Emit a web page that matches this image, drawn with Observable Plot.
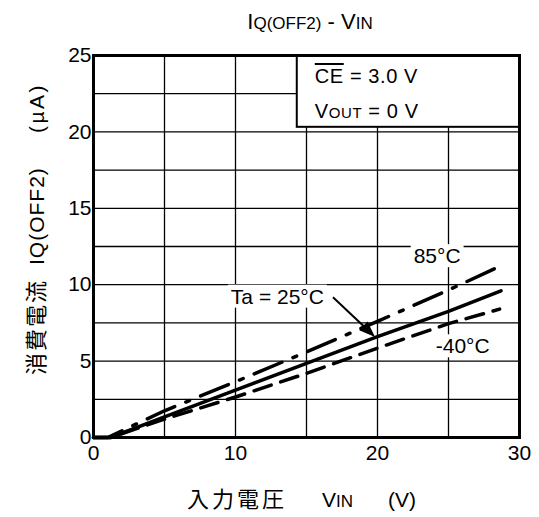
<!DOCTYPE html>
<html>
<head>
<meta charset="utf-8">
<script src="https://cdn.jsdelivr.net/npm/d3@7"></script>
<script src="https://cdn.jsdelivr.net/npm/@observablehq/plot@0.6"></script>
<style>
  body { margin: 0; background: #fff; }
  svg { font-family: "Liberation Sans", Arial, sans-serif; }
</style>
</head>
<body>
<div id="chart"></div>
<script>
// Data
const vin85 = [0, 1.0, 5, 10, 15, 20, 25, 28.6];
const iq85  = [0, 0, 1.75, 3.65, 5.6, 7.6, 9.65, 11.2];
const vin25 = [0, 1.2, 5, 10, 15, 20, 25, 28.7];
const iq25  = [0, 0, 1.35, 3.1, 4.85, 6.6, 8.25, 9.6];
const vinM40 = [0, 1.2, 5, 10, 15, 20, 25, 28.6];
const iqM40  = [0, 0, 1.2, 2.65, 4.2, 5.85, 7.45, 8.4];

const xTickValues = [0, 10, 20, 30];
const yTickValues = [0, 5, 10, 15, 20, 25];
const xGridValues = [5, 10, 15, 20, 25];
const yGridValues = [2.5, 5, 7.5, 10, 12.5, 15, 17.5, 20, 22.5];

const seriesLabels = ["85°C", "Ta = 25°C", "-40°C"];
const labelX = [24.2, 12.95, 26.0];
const labelY = [11.85, 9.2, 5.95];
const arrowFrom = {x: 16.9, y: 9.15};
const arrowTo = {x: 19.86, y: 6.55};
const condBox = {x1: 14.35, x2: 30, y1: 20.3, y2: 25};

const toRows = (xs, ys) => xs.map((v, i) => ({v, i: ys[i]}));
const d85 = toRows(vin85, iq85);
const d25 = toRows(vin25, iq25);
const dM40 = toRows(vinM40, iqM40);
const labels = seriesLabels.map((t, k) => ({t, x: labelX[k], y: labelY[k]}));

const plot = Plot.plot({
  width: 539,
  height: 517,
  marginLeft: 93,
  marginRight: 20,
  marginTop: 55,
  marginBottom: 80,
  x: {domain: [0, 30]},
  y: {domain: [0, 25]},
  style: {fontFamily: "Liberation Sans, Arial, sans-serif", background: "white", color: "black"},
  marks: [
    Plot.ruleX(xGridValues, {stroke: "black", strokeWidth: 1.3}),
    Plot.ruleY(yGridValues, {stroke: "black", strokeWidth: 1.3}),
    Plot.rect([condBox], {x1: "x1", x2: "x2", y1: "y1", y2: "y2", fill: "white", stroke: "black", strokeWidth: 2}),
    Plot.line(d85, {x: "v", y: "i", stroke: "black", strokeWidth: 3.5, strokeDasharray: "30,12,4,12"}),
    Plot.line(d25, {x: "v", y: "i", stroke: "black", strokeWidth: 3.5}),
    Plot.line(dM40, {x: "v", y: "i", stroke: "black", strokeWidth: 3.5, strokeDasharray: "18,10"}),
    Plot.text(labels, {x: "x", y: "y", text: "t", fontSize: 21, fill: "black"}),
    Plot.axisX({ticks: xTickValues, tickSize: 0, tickPadding: 8, fontSize: 21, label: null}),
    Plot.axisY({ticks: yTickValues, tickSize: 0, tickPadding: 2, fontSize: 21, label: null}),
    Plot.frame({stroke: "black", strokeWidth: 3})
  ]
});

document.getElementById("chart").append(plot);
const svg = d3.select(plot);
const sx = plot.scale("x"), sy = plot.scale("y");

// white backgrounds behind series labels
svg.selectAll('g[aria-label="text"] text').each(function () {
  const b = this.getBBox();
  const r = document.createElementNS("http://www.w3.org/2000/svg", "rect");
  r.setAttribute("x", b.x - 3);
  r.setAttribute("y", b.y);
  r.setAttribute("width", b.width + 6);
  r.setAttribute("height", b.height);
  r.setAttribute("fill", "white");
  const tr = this.getAttribute("transform");
  if (tr) r.setAttribute("transform", tr);
  this.parentNode.insertBefore(r, this);
});

// arrow from Ta label to the 25°C curve
{
  const x1 = sx.apply(arrowFrom.x), y1 = sy.apply(arrowFrom.y);
  const x2 = sx.apply(arrowTo.x), y2 = sy.apply(arrowTo.y);
  const dx = x2 - x1, dy = y2 - y1, len = Math.hypot(dx, dy);
  const ux = dx / len, uy = dy / len, nx = -uy, ny = ux;
  const hl = 16, hw = 6;
  const bxp = x2 - hl * ux, byp = y2 - hl * uy;
  const g = svg.append("g");
  g.append("line").attr("x1", x1).attr("y1", y1).attr("x2", bxp + 2 * ux).attr("y2", byp + 2 * uy)
    .attr("stroke", "black").attr("stroke-width", 2);
  g.append("polygon")
    .attr("points", `${x2},${y2} ${bxp + hw * nx},${byp + hw * ny} ${bxp - hw * nx},${byp - hw * ny}`)
    .attr("fill", "black");
}

// condition box text
{
  const left = sx.apply(condBox.x1) + 18;
  const t1 = svg.append("text").attr("x", left).attr("y", 83).attr("font-size", 20)
    .attr("text-anchor", "start").attr("letter-spacing", 0.6);
  t1.append("tspan").style("text-decoration", "overline").text("CE");
  t1.append("tspan").text(" = 3.0 V");
  const t2 = svg.append("text").attr("x", left).attr("y", 118).attr("font-size", 20)
    .attr("text-anchor", "start").attr("letter-spacing", 0.6);
  t2.append("tspan").text("V");
  t2.append("tspan").attr("font-size", 15).text("OUT");
  t2.append("tspan").text(" = 0 V");
}

// title
{
  const t = svg.append("text").attr("x", 310).attr("y", 29).attr("text-anchor", "middle").attr("font-size", 22);
  t.append("tspan").text("I");
  t.append("tspan").attr("font-size", 17).text("Q(OFF2)");
  t.append("tspan").text(" - V");
  t.append("tspan").attr("font-size", 17).text("IN");
}

// y-axis label
{
  const g = svg.append("g").attr("transform", "translate(44,375) rotate(-90)").attr("text-anchor", "start");
  g.append("text").attr("x", 0).attr("font-family", "Noto Sans CJK JP").attr("font-size", 22)
    .attr("letter-spacing", 2).text("消費電流");
  const t = g.append("text").attr("x", 110).attr("font-size", 21).attr("letter-spacing", 1);
  t.append("tspan").text("I");
  t.append("tspan").text("Q(OFF2)");
  g.append("text").attr("x", 242).attr("font-size", 21).attr("letter-spacing", 2.5).text("(µA)");
}

// x-axis label
{
  const g = svg.append("g").attr("text-anchor", "start");
  g.append("text").attr("x", 187).attr("y", 507).attr("font-family", "Noto Sans CJK JP")
    .attr("font-size", 22).attr("letter-spacing", 3).text("入力電圧");
  const t = g.append("text").attr("x", 322).attr("y", 507).attr("font-size", 21);
  t.append("tspan").text("V");
  t.append("tspan").attr("font-size", 17).text("IN");
  g.append("text").attr("x", 388).attr("y", 507).attr("font-size", 21).text("(V)");
}
</script>
</body>
</html>
